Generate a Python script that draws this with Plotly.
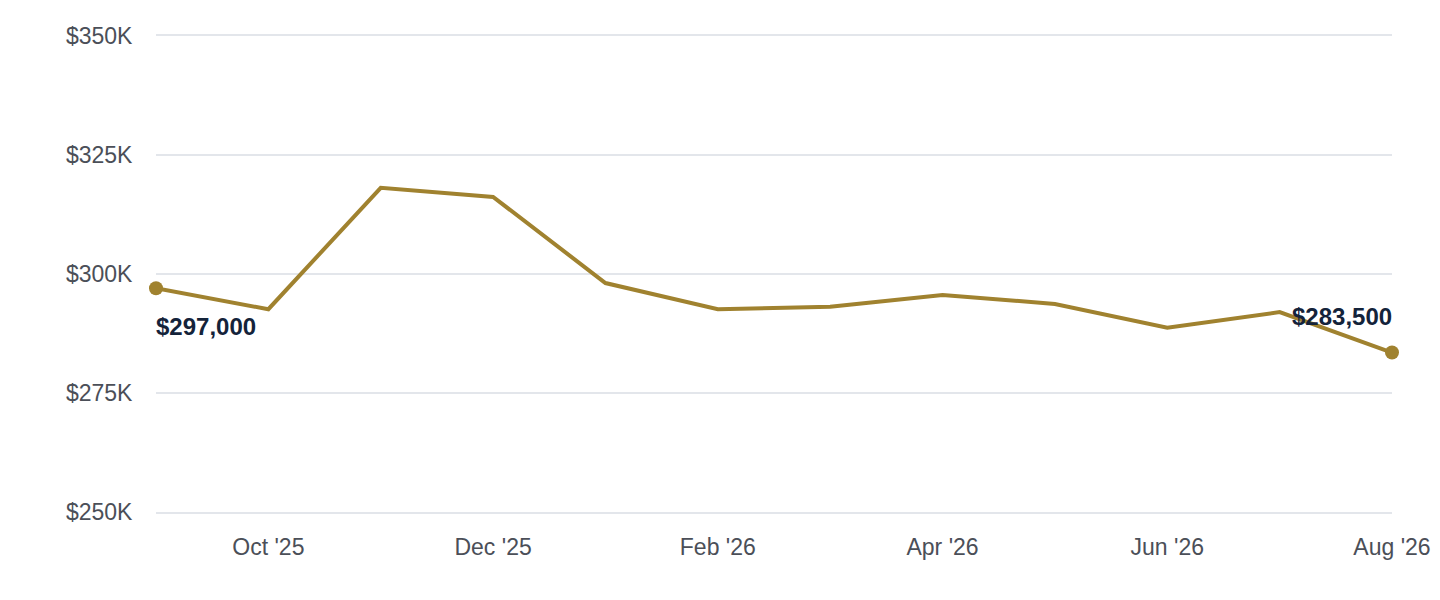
import plotly.graph_objects as go

# monthly values, Sep '25 .. Aug '26 (evenly spaced months)
months = ["Sep '25", "Oct '25", "Nov '25", "Dec '25", "Jan '26", "Feb '26",
          "Mar '26", "Apr '26", "May '26", "Jun '26", "Jul '26", "Aug '26"]
values = [297000, 292600, 318100, 316200, 298100, 292600,
          293100, 295600, 293700, 288700, 292000, 283500]

tick_labels = ["Oct '25", "Dec '25", "Feb '26", "Apr '26", "Jun '26", "Aug '26"]
y_ticks = [250000, 275000, 300000, 325000, 350000]
y_text = ["$250K", "$275K", "$300K", "$325K", "$350K"]

gold = "#A0822F"
grid = "#E3E6EB"

fig = go.Figure()
fig.add_trace(go.Scatter(x=months, y=values, mode="lines", cliponaxis=False,
                         line=dict(color=gold, width=4), hoverinfo="skip"))
# endpoint markers
fig.add_trace(go.Scatter(x=[months[0], months[-1]], y=[values[0], values[-1]], mode="markers",
                         cliponaxis=False, marker=dict(color=gold, size=14), hoverinfo="skip"))

fig.add_annotation(x=months[0], y=values[0], text="<b>$297,000</b>", showarrow=False,
                   xanchor="left", yanchor="top", yshift=-23, xshift=-2,
                   font=dict(size=24, color="#14233A"))
fig.add_annotation(x=months[-1], y=values[-1], text="<b>$283,500</b>", showarrow=False,
                   xanchor="right", yanchor="bottom", yshift=21, xshift=2,
                   font=dict(size=24, color="#14233A"))

# page body has an 8px margin, so the figure is a bit smaller than the window
fig.update_layout(
    width=1432, height=584,
    margin=dict(l=148, r=48, t=28, b=80),
    paper_bgcolor="white", plot_bgcolor="white",
    showlegend=False,
    font=dict(family="Liberation Sans, Arial, sans-serif", size=23, color="#4B4F58"),
    xaxis=dict(type="category", range=[0, len(months) - 1],
               tickvals=tick_labels, ticktext=tick_labels,
               showgrid=False, zeroline=False, showline=True, mirror=True,
               linecolor=grid, linewidth=1.5, automargin=False,
               ticks="outside", ticklen=14, tickcolor="rgba(0,0,0,0)"),
    yaxis=dict(range=[250000, 350000], tickvals=y_ticks, ticktext=y_text,
               showgrid=True, gridcolor=grid, gridwidth=1.5, zeroline=False,
               ticks="outside", ticklen=18, tickcolor="rgba(0,0,0,0)"),
)

fig.write_html("out.html")
